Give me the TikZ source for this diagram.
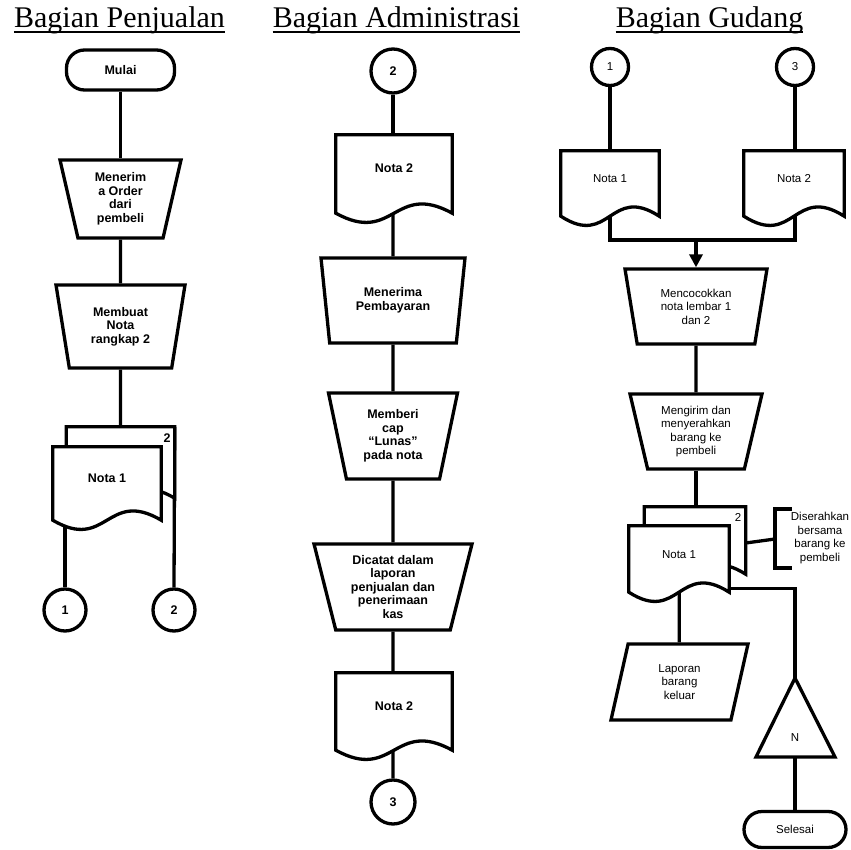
\documentclass[tikz,border=0pt]{standalone}
\usepackage{fontspec}
\setmainfont{Liberation Serif}
\setsansfont{Liberation Sans}
\usetikzlibrary{shapes.geometric,arrows.meta,calc}

\pgfdeclarelayer{links}
\pgfdeclarelayer{pages}
\pgfsetlayers{links,pages,main}

\tikzset{
  tebal/.style={line width=3.3pt},
  boldtext/.style={font=\sffamily\bfseries\fontsize{12.5}{13.5}\selectfont},
  regtext/.style={font=\sffamily\fontsize{11.5}{13.5}\selectfont},
  head/.style={font=\rmfamily\fontsize{30}{36}\selectfont, inner sep=0pt, anchor=base},
  term/.style={draw, tebal, fill=white, rounded corners=18pt, inner sep=0pt},
  manop/.style={draw, tebal, fill=white, trapezium, trapezium left angle=109,
    trapezium right angle=109, trapezium stretches body, inner sep=0pt, align=center},
  io/.style={draw, tebal, fill=white, trapezium, trapezium left angle=64,
    trapezium right angle=116, trapezium stretches body, inner sep=0pt, align=center},
  conn/.style={draw, tebal, fill=white, circle, inner sep=0pt},
  docbox/.style={rectangle, inner sep=0pt, align=center, text height=9pt, text depth=11pt},
}

% lembar dokumen dengan sisi bawah bergelombang
\newcommand{\docpage}[1]{%
  \begin{pgfonlayer}{pages}
    \draw[tebal, fill=white] (#1.south west) -- (#1.north west) -- (#1.north east) -- (#1.south east)
      .. controls ($(#1.south)+(0,-32)$) and ($(#1.south)+(0,32)$) .. (#1.south west) -- cycle;
  \end{pgfonlayer}}

\begin{document}
\begin{tikzpicture}[x=1pt,y=-1pt]
                \useasboundingbox (0,0) rectangle (851,850);

                %% judul
                \node[head] (hJual) at (119.5,27.5) {Bagian Penjualan};
                \node[head] (hAdm) at (396.5,27.5) {Bagian Administrasi};
                \node[head] (hGud) at (709.5,27.5) {Bagian Gudang};
                \foreach \h in {hJual,hAdm,hGud}
                  \draw[line width=1.4pt] ([yshift=-4.5pt]\h.base west) -- ([yshift=-4.5pt]\h.base east);

                %% Bagian Penjualan
                \node[term, boldtext, minimum width=108pt, minimum height=40pt] (mulai) at (120.5,70) {Mulai};
                \node[manop, boldtext, minimum width=121pt, minimum height=78pt] (terima) at (120.5,199) {Menerim\\a Order\\dari\\pembeli};
                \node[manop, boldtext, minimum width=129pt, minimum height=83pt] (buat) at (120.5,326.5) {Membuat\\Nota\\rangkap 2};

                %nota rangkap
                \node[docbox, minimum width=108pt, minimum height=71pt] (nota2b) at (120.5,462.5) {};
                \node[docbox, boldtext, minimum width=108pt, minimum height=73pt] (nota1a) at (107,483.5) {Nota 1};
                \docpage{nota2b}
                \docpage{nota1a}
                \node[boldtext, inner sep=0pt] (lembar2) at (167,438) {2};

                \node[conn, boldtext, minimum size=42pt] (kon1) at (65,610) {1};
                \node[conn, boldtext, minimum size=42pt] (kon2) at (174,610) {2};

                \begin{pgfonlayer}{links}
                  \draw[tebal] (mulai) -- (terima);
                  \draw[tebal] (terima) -- (buat);
                  \draw[tebal] (buat) -- (nota2b);
                  \draw[tebal] (kon1.north) -- (kon1 |- nota1a.center);
                  \draw[tebal] (kon2.north) -- (nota2b.north east);
                \end{pgfonlayer}

                %% Bagian Administrasi
                \node[conn, boldtext, minimum size=44pt] (kon2m) at (393,71) {2};
                \node[docbox, boldtext, minimum width=116pt, minimum height=78pt] (nota2) at (394,174) {Nota 2};
                \docpage{nota2}
                \node[manop, boldtext, minimum width=144pt, minimum height=85pt] (bayar) at (393,300.5) {Menerima\\Pembayaran};
                \node[manop, boldtext, minimum width=129pt, minimum height=86pt] (cap) at (393,436) {Memberi\\cap\\“Lunas”\\pada nota};
                \node[manop, boldtext, minimum width=158pt, minimum height=86pt] (catat) at (393,587) {Dicatat dalam\\laporan\\penjualan dan\\penerimaan\\kas};
                \node[docbox, boldtext, minimum width=116pt, minimum height=77pt] (nota2k) at (394,711.5) {Nota 2};
                \docpage{nota2k}
                \node[conn, boldtext, minimum size=44pt] (kon3) at (393,802) {3};

                \begin{pgfonlayer}{links}
                  \draw[tebal] (kon2m) -- (kon2m |- nota2.center);
                  \draw[tebal] (kon2m |- nota2.center) -- (bayar);
                  \draw[tebal] (bayar) -- (cap);
                  \draw[tebal] (cap) -- (catat);
                  \draw[tebal] (catat) -- (kon3);
                \end{pgfonlayer}

                %% Bagian Gudang
                \node[conn, regtext, minimum size=37pt] (kon1r) at (610,67) {1};
                \node[conn, regtext, minimum size=37pt] (kon3r) at (795,67) {3};
                \node[docbox, regtext, minimum width=98pt, minimum height=65pt] (notaA) at (610,183.5) {Nota 1};
                \node[docbox, regtext, minimum width=100pt, minimum height=65pt] (notaB) at (794,183.5) {Nota 2};
                \docpage{notaA}
                \docpage{notaB}
                \coordinate (gabung) at (696,240);

                \node[manop, regtext, minimum width=142pt, minimum height=75pt] (cocok) at (696,306.5) {Mencocokkan\\nota lembar 1\\dan 2};
                \node[manop, regtext, minimum width=132pt, minimum height=75pt] (kirim) at (696,431.5) {Mengirim dan\\menyerahkan\\barang ke\\pembeli};

                %nota rangkap
                \node[docbox, minimum width=101pt, minimum height=67pt] (notaKb) at (695,540.5) {};
                \node[docbox, regtext, minimum width=100pt, minimum height=66pt] (notaKa) at (679,559) {Nota 1};
                \docpage{notaKb}
                \docpage{notaKa}
                \node[regtext, inner sep=0pt] (lembar2k) at (738,517) {2};

                %keterangan
                \node[regtext, align=center, inner sep=0pt] (serah) at (820,538) {Diserahkan\\bersama\\barang ke\\pembeli};
                \draw[tebal] (792,509) -- (775,509) -- (775,568) -- (792,568);
                \coordinate (kurung) at (775,539);

                \node[io, regtext, minimum width=137pt, minimum height=76pt] (lapor) at (679.5,682) {Laporan\\barang\\keluar};

                %arsip
                \coordinate (arsipTop) at (795,678);
                \coordinate (arsipBase) at (795,757);
                \draw[tebal, fill=white] (arsipTop) -- (835,757) -- (756,757) -- cycle;
                \node[regtext, inner sep=0pt] (arsip) at (795,738) {N};

                \node[term, regtext, minimum width=102pt, minimum height=36pt] (selesai) at (795,829.5) {Selesai};

                \begin{pgfonlayer}{links}
                  \draw[tebal] (kon1r) -- (notaA);
                  \draw[tebal] (kon3r) -- (kon3r |- notaB.center);
                  \draw[tebal] (notaA.center) |- (gabung) -| (kon3r |- notaB.center);
                  \draw[tebal] (cocok) -- (kirim);
                  \draw[tebal] (kirim) -- (kirim |- notaKb.center);
                  \draw[tebal] (notaKa) -- (lapor);
                  \draw[tebal] ([yshift=4pt]notaKa.south east) -| (arsipTop);
                  \draw[tebal] (arsipBase) -- (selesai);
                  \draw[tebal] ([yshift=-2.5pt]notaKb.east) -- (kurung);
                \end{pgfonlayer}
                \draw[tebal, -{Triangle[width=13pt,length=13pt]}] (gabung) -- (gabung |- cocok.north);

            \end{tikzpicture}
\end{document}
